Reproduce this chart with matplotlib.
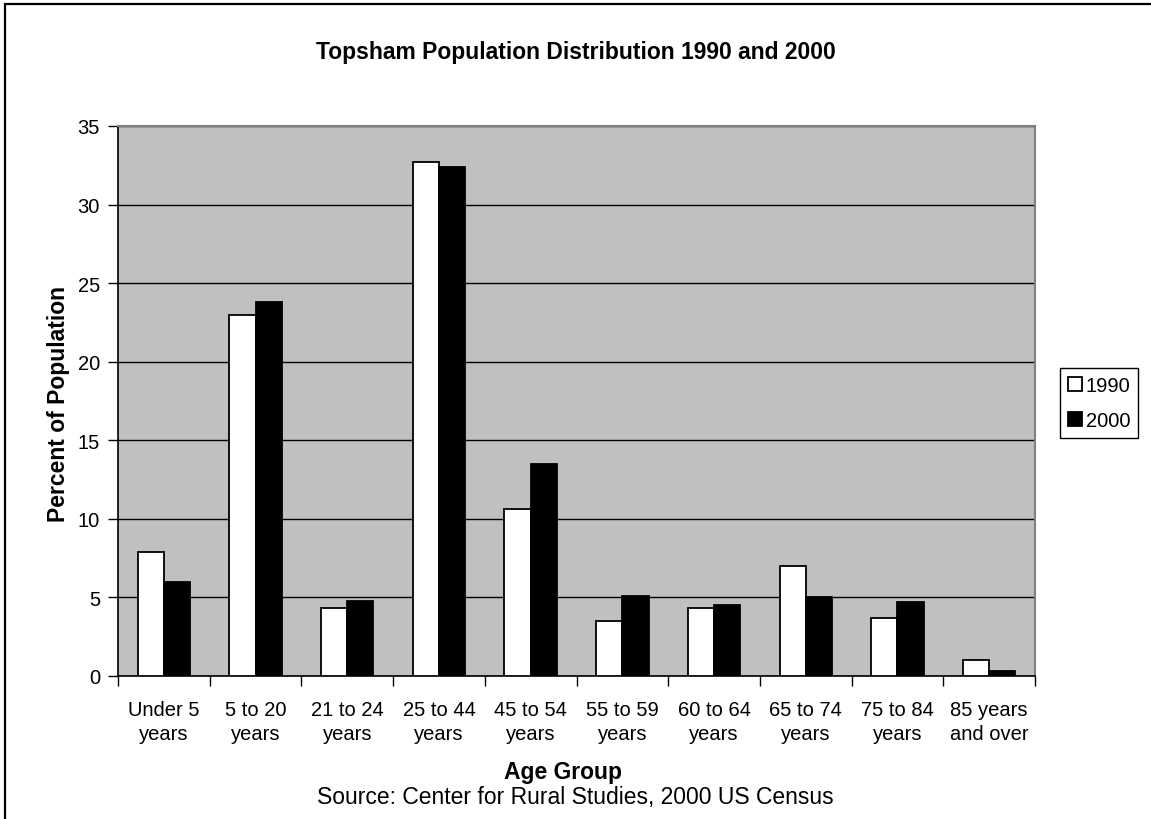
import numpy as np
import matplotlib
matplotlib.use("Agg")
import matplotlib.pyplot as plt
from matplotlib.patches import Rectangle

plt.rcParams["font.family"] = ["Liberation Sans", "DejaVu Sans"]

# Topsham age distribution, percent of population
age_groups = ["Under 5\nyears", "5 to 20\nyears", "21 to 24\nyears", "25 to 44\nyears",
              "45 to 54\nyears", "55 to 59\nyears", "60 to 64\nyears", "65 to 74\nyears",
              "75 to 84\nyears", "85 years\nand over"]
pct_1990 = [7.9, 23.0, 4.3, 32.7, 10.6, 3.5, 4.3, 7.0, 3.7, 1.0]
pct_2000 = [6.0, 23.8, 4.8, 32.4, 13.5, 5.1, 4.5, 5.0, 4.7, 0.3]
y_ticks = [0, 5, 10, 15, 20, 25, 30, 35]

W, H = 1151, 820
fig = plt.figure(figsize=(W / 100, H / 100), dpi=100)

# chart area frame (only top and left edges fall inside the image)
fig.patches.append(Rectangle((5 / W, -0.1), 1.2, 1 - 5 / H + 0.1, transform=fig.transFigure,
                             fill=False, edgecolor="black", linewidth=1.6, zorder=0))

ax = fig.add_axes([118 / W, 1 - 677 / H, (1035 - 118) / W, (677 - 127) / H])
ax.set_facecolor("#c0c0c0")

x = np.arange(len(age_groups))
bw = 1 / 3.5
ax.bar(x - bw / 2, pct_1990, bw, color="white", edgecolor="black", linewidth=1.3, label="1990", zorder=3)
ax.bar(x + bw / 2, pct_2000, bw, color="black", edgecolor="black", linewidth=1.3, label="2000", zorder=3)

ax.set_xlim(-0.5, len(age_groups) - 0.5)
ax.set_ylim(0, 35)
ax.set_yticks(y_ticks)
ax.yaxis.grid(True, color="black", linewidth=1.0, zorder=1)
ax.set_axisbelow(True)

# ticks sit between categories, labels at the category centres
ax.set_xticks(np.arange(len(age_groups) + 1) - 0.5)
ax.set_xticklabels([])
ax.set_xticks(x, minor=True)
ax.set_xticklabels(age_groups, minor=True, fontsize=14.5, linespacing=1.35)
ax.tick_params(axis="x", which="minor", length=0, pad=17)
ax.tick_params(axis="x", which="major", length=7, width=1, direction="out")
ax.tick_params(axis="y", length=7, width=1, direction="out", labelsize=14.5, pad=6)

for side in ("top", "right"):
    ax.spines[side].set_color("#808080")
    ax.spines[side].set_linewidth(1.5)
for side in ("left", "bottom"):
    ax.spines[side].set_color("black")
    ax.spines[side].set_linewidth(1.2)

fig.text(576 / W, 1 - 52 / H, "Topsham Population Distribution 1990 and 2000",
         ha="center", va="center", fontsize=16.5, fontweight="bold")
fig.text(58 / W, 1 - 404 / H, "Percent of Population", rotation=90,
         ha="center", va="center", fontsize=16.5, fontweight="bold")
fig.text(563 / W, 1 - 773 / H, "Age Group", ha="center", va="center",
         fontsize=16.5, fontweight="bold")
fig.text(575 / W, 1 - 798 / H, "Source: Center for Rural Studies, 2000 US Census",
         ha="center", va="center", fontsize=16.5)

leg = fig.legend(loc="center", bbox_to_anchor=(1099 / W, 1 - 404 / H), fontsize=14.5,
                 frameon=True, fancybox=False, edgecolor="black", framealpha=1,
                 handlelength=0.7, handleheight=0.7, handletextpad=0.2,
                 labelspacing=0.8, borderpad=0.4, borderaxespad=0)
leg.get_frame().set_linewidth(1.0)

fig.savefig("out.png", dpi=100)
